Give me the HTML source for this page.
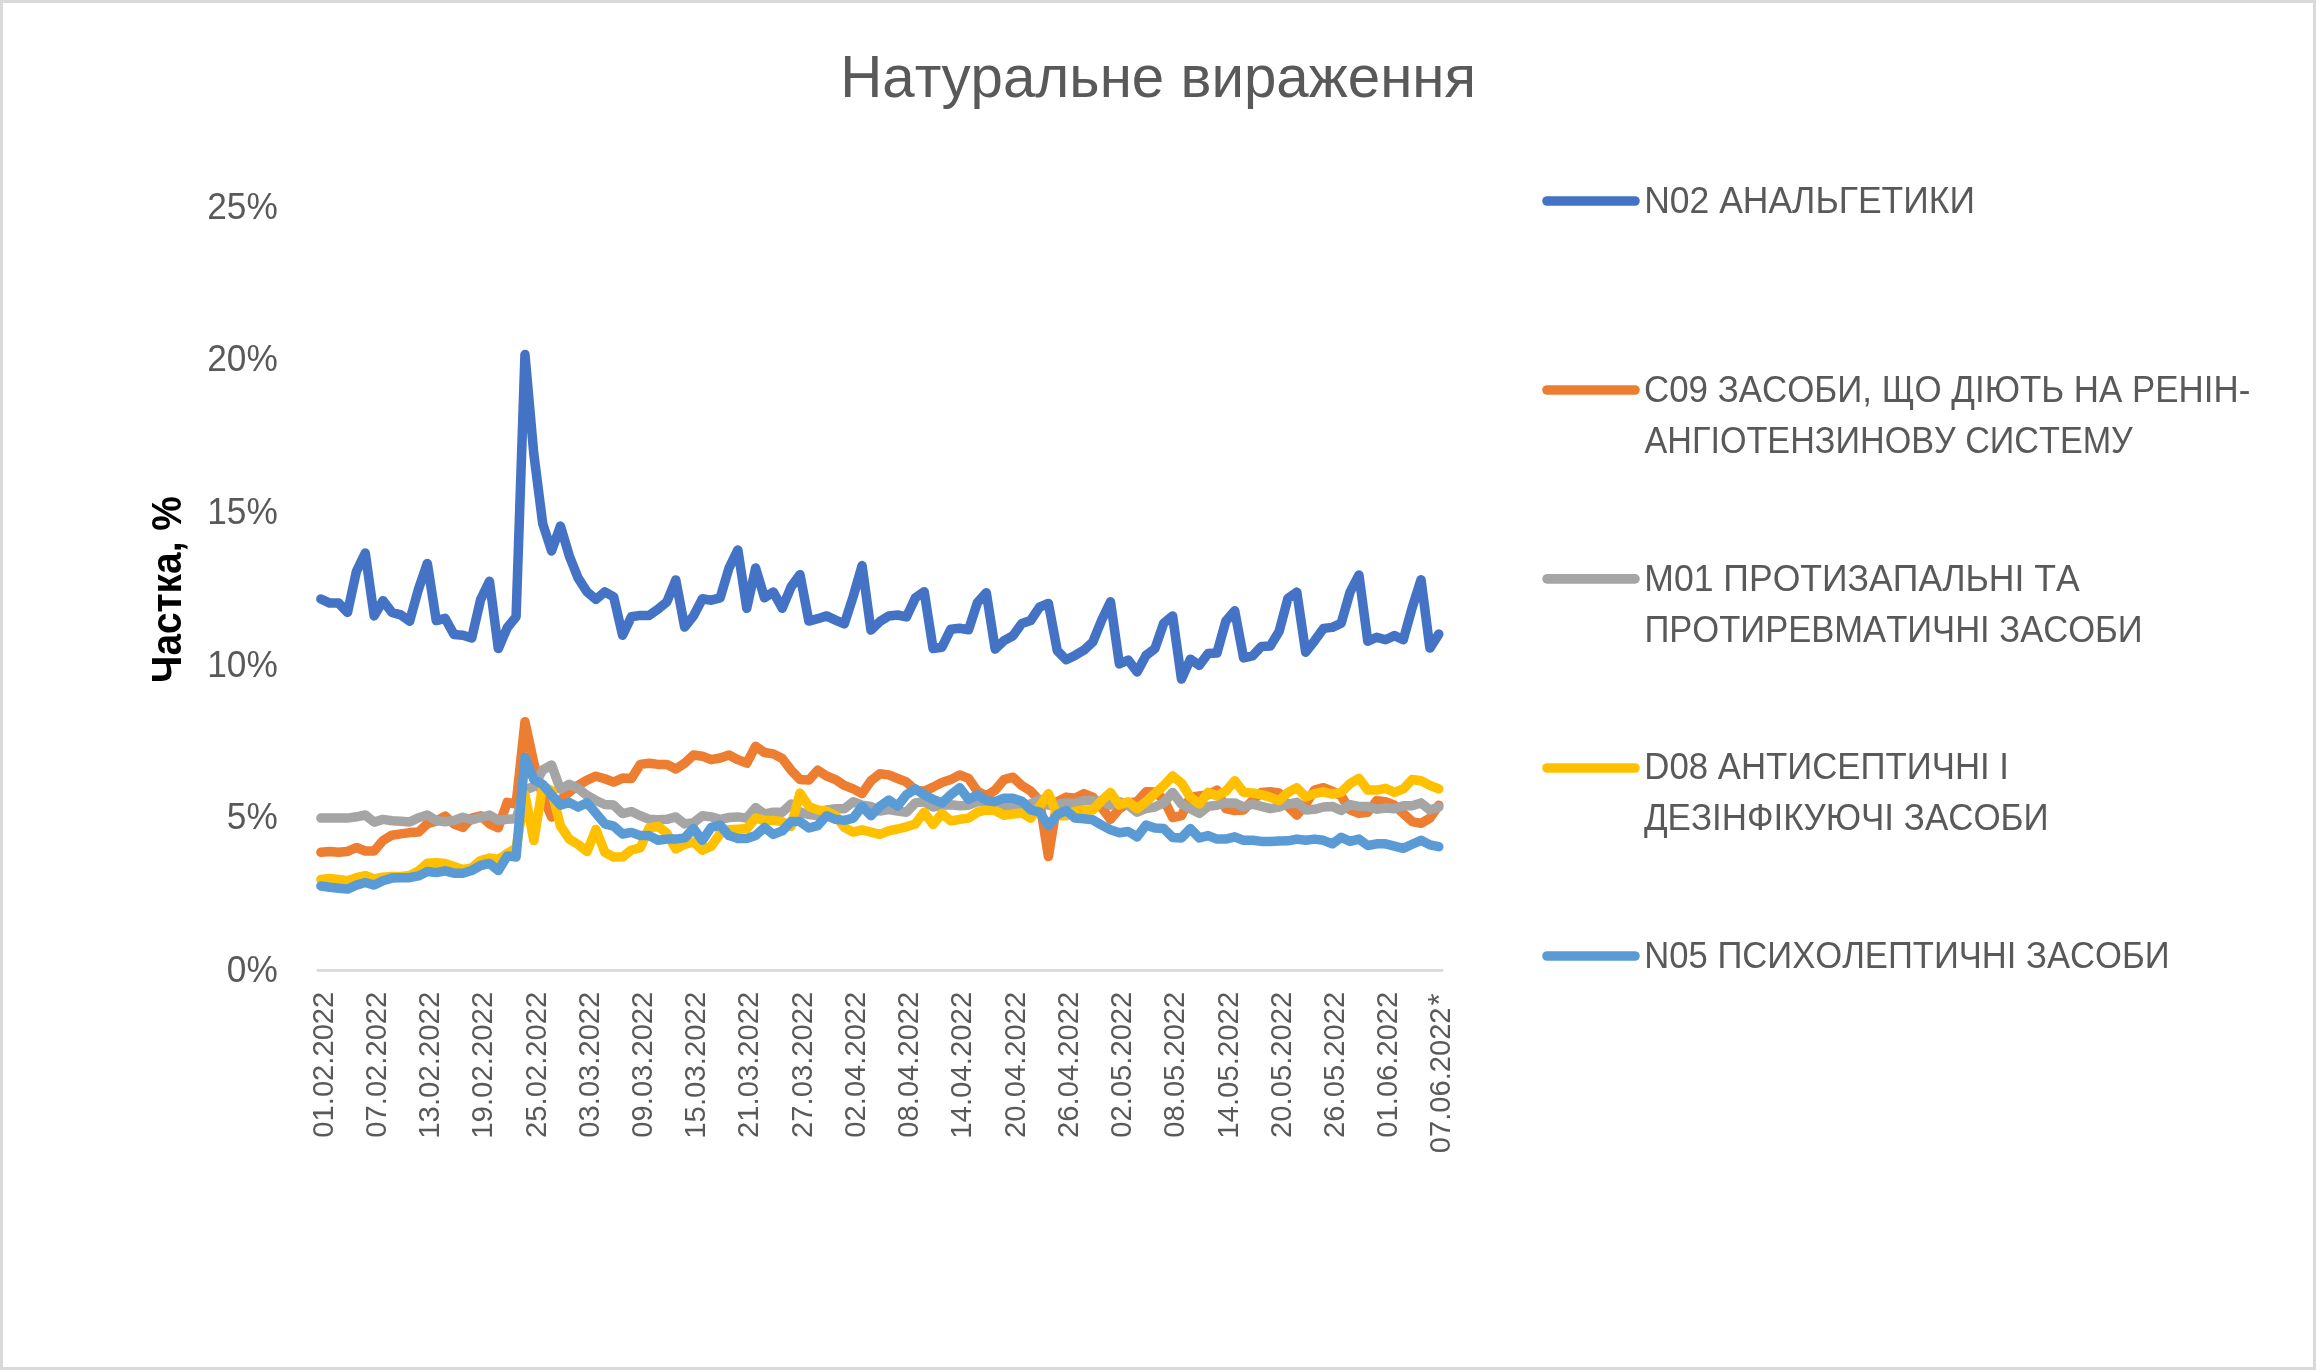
<!DOCTYPE html>
<html><head><meta charset="utf-8"><style>
html,body{margin:0;padding:0;background:#fff;}
body{width:2316px;height:1370px;overflow:hidden;}
svg{display:block;will-change:transform;font-family:"Liberation Sans", sans-serif;font-kerning:none;}
</style></head><body>
<svg width="2316" height="1370" viewBox="0 0 2316 1370">
<rect x="1.5" y="1.5" width="2313" height="1367" fill="#fff" stroke="#d9d9d9" stroke-width="3"/>
<text x="840.22" y="96.90" font-size="59" textLength="635.82" lengthAdjust="spacingAndGlyphs" fill="#595959">Натуральне вираження</text>
<text x="207.23" y="218.70" font-size="37.8" textLength="70.53" lengthAdjust="spacingAndGlyphs" fill="#595959">25%</text>
<text x="207.23" y="371.30" font-size="37.8" textLength="70.53" lengthAdjust="spacingAndGlyphs" fill="#595959">20%</text>
<text x="207.23" y="523.90" font-size="37.8" textLength="70.53" lengthAdjust="spacingAndGlyphs" fill="#595959">15%</text>
<text x="207.23" y="676.50" font-size="37.8" textLength="70.53" lengthAdjust="spacingAndGlyphs" fill="#595959">10%</text>
<text x="226.83" y="829.10" font-size="37.8" textLength="50.93" lengthAdjust="spacingAndGlyphs" fill="#595959">5%</text>
<text x="226.83" y="981.70" font-size="37.8" textLength="50.93" lengthAdjust="spacingAndGlyphs" fill="#595959">0%</text>
<rect x="316.6" y="969.1" width="1126.6" height="2.7" fill="#d9d9d9"/>
<text transform="rotate(-90)" x="-682.89" y="181.00" font-size="43.0" textLength="186.61" lengthAdjust="spacingAndGlyphs" fill="#000" font-weight="bold">Частка, %</text>
<text transform="rotate(-90)" x="-1137.64" y="332.60" font-size="29.8" textLength="145.90" lengthAdjust="spacingAndGlyphs" fill="#595959">01.02.2022</text>
<text transform="rotate(-90)" x="-1137.64" y="385.83" font-size="29.8" textLength="145.90" lengthAdjust="spacingAndGlyphs" fill="#595959">07.02.2022</text>
<text transform="rotate(-90)" x="-1138.74" y="439.06" font-size="29.8" textLength="147.01" lengthAdjust="spacingAndGlyphs" fill="#595959">13.02.2022</text>
<text transform="rotate(-90)" x="-1138.74" y="492.30" font-size="29.8" textLength="147.01" lengthAdjust="spacingAndGlyphs" fill="#595959">19.02.2022</text>
<text transform="rotate(-90)" x="-1137.97" y="545.53" font-size="29.8" textLength="146.24" lengthAdjust="spacingAndGlyphs" fill="#595959">25.02.2022</text>
<text transform="rotate(-90)" x="-1137.64" y="598.76" font-size="29.8" textLength="145.90" lengthAdjust="spacingAndGlyphs" fill="#595959">03.03.2022</text>
<text transform="rotate(-90)" x="-1137.64" y="651.99" font-size="29.8" textLength="145.90" lengthAdjust="spacingAndGlyphs" fill="#595959">09.03.2022</text>
<text transform="rotate(-90)" x="-1138.74" y="705.22" font-size="29.8" textLength="147.01" lengthAdjust="spacingAndGlyphs" fill="#595959">15.03.2022</text>
<text transform="rotate(-90)" x="-1137.97" y="758.46" font-size="29.8" textLength="146.24" lengthAdjust="spacingAndGlyphs" fill="#595959">21.03.2022</text>
<text transform="rotate(-90)" x="-1137.97" y="811.69" font-size="29.8" textLength="146.24" lengthAdjust="spacingAndGlyphs" fill="#595959">27.03.2022</text>
<text transform="rotate(-90)" x="-1137.64" y="864.92" font-size="29.8" textLength="145.90" lengthAdjust="spacingAndGlyphs" fill="#595959">02.04.2022</text>
<text transform="rotate(-90)" x="-1137.64" y="918.15" font-size="29.8" textLength="145.90" lengthAdjust="spacingAndGlyphs" fill="#595959">08.04.2022</text>
<text transform="rotate(-90)" x="-1138.74" y="971.38" font-size="29.8" textLength="147.01" lengthAdjust="spacingAndGlyphs" fill="#595959">14.04.2022</text>
<text transform="rotate(-90)" x="-1137.97" y="1024.62" font-size="29.8" textLength="146.24" lengthAdjust="spacingAndGlyphs" fill="#595959">20.04.2022</text>
<text transform="rotate(-90)" x="-1137.97" y="1077.85" font-size="29.8" textLength="146.24" lengthAdjust="spacingAndGlyphs" fill="#595959">26.04.2022</text>
<text transform="rotate(-90)" x="-1137.64" y="1131.08" font-size="29.8" textLength="145.90" lengthAdjust="spacingAndGlyphs" fill="#595959">02.05.2022</text>
<text transform="rotate(-90)" x="-1137.64" y="1184.31" font-size="29.8" textLength="145.90" lengthAdjust="spacingAndGlyphs" fill="#595959">08.05.2022</text>
<text transform="rotate(-90)" x="-1138.74" y="1237.54" font-size="29.8" textLength="147.01" lengthAdjust="spacingAndGlyphs" fill="#595959">14.05.2022</text>
<text transform="rotate(-90)" x="-1137.97" y="1290.78" font-size="29.8" textLength="146.24" lengthAdjust="spacingAndGlyphs" fill="#595959">20.05.2022</text>
<text transform="rotate(-90)" x="-1137.97" y="1344.01" font-size="29.8" textLength="146.24" lengthAdjust="spacingAndGlyphs" fill="#595959">26.05.2022</text>
<text transform="rotate(-90)" x="-1137.64" y="1397.24" font-size="29.8" textLength="145.90" lengthAdjust="spacingAndGlyphs" fill="#595959">01.06.2022</text>
<text transform="rotate(-90)" x="-1153.14" y="1450.47" font-size="29.8" textLength="145.70" lengthAdjust="spacingAndGlyphs" fill="#595959">07.06.2022</text>
<text transform="rotate(-90)" x="-1005.40" y="1450.07" font-size="31.588" textLength="12.09" lengthAdjust="spacingAndGlyphs" fill="#595959">*</text>
<polyline points="320.90,599.0 329.77,603.1 338.64,603.1 347.52,612.4 356.39,571.5 365.26,553.0 374.13,615.9 383.00,600.7 391.88,612.4 400.75,614.8 409.62,621.2 418.49,589.1 427.36,563.4 436.24,620.6 445.11,618.3 453.98,634.6 462.85,635.2 471.72,638.1 480.60,599.6 489.47,581.2 498.34,648.6 507.21,627.8 516.08,616.7 524.96,354.6 533.83,454.1 542.70,523.6 551.57,550.9 560.44,526.1 569.32,555.9 578.19,578.2 587.06,591.9 595.93,599.3 604.80,591.9 613.68,596.8 622.55,635.3 631.42,616.7 640.29,615.4 649.16,615.4 658.04,609.2 666.91,601.8 675.78,580.0 684.65,627.0 693.52,615.9 702.40,598.8 711.27,600.2 720.14,597.8 729.01,568.0 737.88,549.9 746.76,608.3 755.63,568.0 764.50,597.8 773.37,592.1 782.24,608.3 791.12,586.9 799.99,574.6 808.86,621.1 817.73,618.7 826.60,615.9 835.48,620.1 844.35,623.9 853.22,596.4 862.09,565.6 870.96,630.1 879.84,621.6 888.71,615.9 897.58,615.0 906.45,616.9 915.32,597.9 924.20,591.7 933.07,648.6 941.94,647.2 950.81,629.2 959.68,628.2 968.56,629.7 977.43,602.6 986.30,592.7 995.17,649.1 1004.04,640.6 1012.92,635.8 1021.79,623.5 1030.66,620.5 1039.53,607.2 1048.40,603.4 1057.28,650.6 1066.15,659.7 1075.02,655.4 1083.89,650.2 1092.76,642.1 1101.64,620.3 1110.51,601.8 1119.38,663.9 1128.25,660.1 1137.12,672.0 1146.00,655.4 1154.87,648.7 1163.74,623.1 1172.61,616.0 1181.48,679.1 1190.36,659.2 1199.23,665.4 1208.10,653.5 1216.97,652.9 1225.84,621.1 1234.72,610.8 1243.59,657.9 1252.46,655.9 1261.33,646.5 1270.20,646.0 1279.08,631.5 1287.95,598.3 1296.82,592.1 1305.69,652.2 1314.56,640.8 1323.44,628.4 1332.31,627.4 1341.18,623.2 1350.05,592.1 1358.92,575.0 1367.80,641.3 1376.67,637.2 1385.54,639.8 1394.41,635.6 1403.28,639.8 1412.16,607.7 1421.03,579.7 1429.90,648.1 1438.77,634.1" fill="none" stroke="#4472C4" stroke-width="9.5" stroke-linejoin="round" stroke-linecap="round"/>
<polyline points="320.90,852.3 329.77,851.4 338.64,852.3 347.52,851.4 356.39,847.5 365.26,851.0 374.13,851.0 383.00,840.5 391.88,835.2 400.75,833.9 409.62,832.6 418.49,832.1 427.36,823.8 436.24,821.2 445.11,816.0 453.98,824.0 462.85,827.4 471.72,818.0 480.60,815.8 489.47,823.8 498.34,827.8 507.21,802.3 516.08,804.1 524.96,721.7 533.83,763.0 542.70,796.0 551.57,817.0 560.44,800.0 569.32,791.9 578.19,785.4 587.06,780.1 595.93,776.2 604.80,778.8 613.68,782.1 622.55,778.1 631.42,778.5 640.29,764.4 649.16,763.2 658.04,764.4 666.91,764.4 675.78,769.0 684.65,763.2 693.52,755.0 702.40,756.2 711.27,759.7 720.14,758.0 729.01,755.0 737.88,759.7 746.76,763.2 755.63,746.3 764.50,752.5 773.37,753.9 782.24,758.5 791.12,770.2 799.99,779.6 808.86,780.1 817.73,770.2 826.60,776.0 835.48,779.6 844.35,785.4 853.22,788.9 862.09,793.6 870.96,780.7 879.84,773.7 888.71,774.9 897.58,778.5 906.45,781.9 915.32,790.1 924.20,791.2 933.07,787.1 941.94,782.5 950.81,779.6 959.68,774.9 968.56,778.4 977.43,791.2 986.30,795.9 995.17,790.1 1004.04,779.6 1012.92,777.2 1021.79,785.5 1030.66,791.0 1039.53,800.6 1048.40,856.6 1057.28,801.7 1066.15,797.1 1075.02,798.2 1083.89,793.6 1092.76,797.1 1101.64,807.6 1110.51,819.3 1119.38,808.7 1128.25,802.9 1137.12,801.7 1146.00,791.8 1154.87,792.0 1163.74,799.4 1172.61,817.5 1181.48,815.7 1190.36,797.1 1199.23,795.9 1208.10,794.7 1216.97,790.1 1225.84,808.7 1234.72,810.5 1243.59,809.9 1252.46,800.6 1261.33,792.4 1270.20,791.8 1279.08,793.0 1287.95,806.4 1296.82,815.2 1305.69,804.1 1314.56,790.1 1323.44,787.7 1332.31,791.2 1341.18,795.9 1350.05,809.9 1358.92,813.4 1367.80,812.2 1376.67,800.6 1385.54,801.7 1394.41,805.2 1403.28,813.4 1412.16,821.6 1421.03,823.3 1429.90,818.1 1438.77,805.2" fill="none" stroke="#ED7D31" stroke-width="9.5" stroke-linejoin="round" stroke-linecap="round"/>
<polyline points="320.90,818.1 329.77,818.1 338.64,818.1 347.52,818.1 356.39,816.8 365.26,815.0 374.13,822.1 383.00,819.4 391.88,820.7 400.75,821.2 409.62,822.1 418.49,817.7 427.36,815.0 436.24,820.5 445.11,821.8 453.98,820.5 462.85,817.3 471.72,819.8 480.60,817.5 489.47,815.0 498.34,820.2 507.21,819.2 516.08,818.8 524.96,790.0 533.83,786.5 542.70,770.0 551.57,765.0 560.44,789.3 569.32,784.2 578.19,788.5 587.06,795.5 595.93,800.5 604.80,804.5 613.68,805.1 622.55,813.6 631.42,811.5 640.29,815.7 649.16,819.3 658.04,819.8 666.91,819.3 675.78,816.9 684.65,823.9 693.52,822.8 702.40,815.7 711.27,816.9 720.14,819.3 729.01,817.5 737.88,816.9 746.76,818.1 755.63,807.6 764.50,814.0 773.37,812.2 782.24,812.2 791.12,804.1 799.99,812.2 808.86,814.6 817.73,815.7 826.60,809.9 835.48,808.7 844.35,808.7 853.22,801.7 862.09,805.2 870.96,806.4 879.84,811.1 888.71,809.5 897.58,811.1 906.45,812.2 915.32,802.9 924.20,801.7 933.07,807.0 941.94,805.2 950.81,804.7 959.68,805.8 968.56,805.2 977.43,801.7 986.30,801.7 995.17,804.1 1004.04,806.4 1012.92,805.2 1021.79,806.0 1030.66,804.0 1039.53,799.4 1048.40,805.2 1057.28,804.1 1066.15,802.9 1075.02,803.5 1083.89,800.6 1092.76,800.6 1101.64,801.7 1110.51,805.2 1119.38,801.7 1128.25,805.2 1137.12,812.2 1146.00,808.7 1154.87,807.0 1163.74,802.9 1172.61,792.4 1181.48,804.1 1190.36,808.7 1199.23,813.4 1208.10,806.4 1216.97,805.2 1225.84,802.9 1234.72,802.9 1243.59,807.0 1252.46,804.1 1261.33,806.4 1270.20,808.7 1279.08,807.0 1287.95,804.1 1296.82,802.3 1305.69,809.9 1314.56,809.3 1323.44,807.0 1332.31,806.4 1341.18,810.5 1350.05,804.6 1358.92,806.4 1367.80,806.4 1376.67,809.3 1385.54,808.1 1394.41,808.7 1403.28,805.8 1412.16,805.8 1421.03,802.9 1429.90,809.9 1438.77,807.0" fill="none" stroke="#A5A5A5" stroke-width="9.5" stroke-linejoin="round" stroke-linecap="round"/>
<polyline points="320.90,879.4 329.77,878.6 338.64,879.4 347.52,880.8 356.39,877.7 365.26,875.5 374.13,879.0 383.00,877.2 391.88,876.4 400.75,876.4 409.62,875.5 418.49,871.1 427.36,863.2 436.24,862.8 445.11,863.5 453.98,866.5 462.85,869.5 471.72,868.0 480.60,860.5 489.47,858.0 498.34,859.5 507.21,853.5 516.08,848.0 524.96,794.6 533.83,840.5 542.70,786.0 551.57,790.6 560.44,826.0 569.32,839.2 578.19,844.5 587.06,851.5 595.93,829.4 604.80,852.3 613.68,857.0 622.55,857.0 631.42,850.0 640.29,847.9 649.16,828.0 658.04,826.3 666.91,833.3 675.78,849.0 684.65,844.4 693.52,842.0 702.40,850.2 711.27,846.1 720.14,833.8 729.01,829.8 737.88,829.2 746.76,828.6 755.63,818.1 764.50,820.4 773.37,820.4 782.24,821.6 791.12,826.3 799.99,793.0 808.86,806.4 817.73,809.9 826.60,811.1 835.48,815.7 844.35,827.4 853.22,832.1 862.09,829.8 870.96,832.1 879.84,834.4 888.71,830.9 897.58,829.0 906.45,826.8 915.32,823.9 924.20,812.2 933.07,824.5 941.94,813.4 950.81,821.0 959.68,819.3 968.56,818.1 977.43,812.2 986.30,809.9 995.17,810.5 1004.04,815.2 1012.92,814.0 1021.79,813.0 1030.66,818.1 1039.53,806.4 1048.40,793.6 1057.28,815.7 1066.15,815.7 1075.02,811.1 1083.89,809.9 1092.76,809.9 1101.64,800.6 1110.51,792.4 1119.38,805.2 1128.25,801.7 1137.12,808.7 1146.00,801.7 1154.87,793.5 1163.74,785.4 1172.61,776.0 1181.48,783.1 1190.36,797.1 1199.23,804.1 1208.10,792.4 1216.97,795.9 1225.84,791.2 1234.72,780.7 1243.59,792.4 1252.46,793.0 1261.33,794.7 1270.20,797.1 1279.08,800.6 1287.95,792.4 1296.82,787.7 1305.69,797.1 1314.56,793.6 1323.44,791.8 1332.31,794.1 1341.18,792.4 1350.05,783.6 1358.92,778.4 1367.80,790.1 1376.67,790.1 1385.54,788.3 1394.41,792.4 1403.28,788.9 1412.16,779.5 1421.03,780.7 1429.90,785.4 1438.77,788.9" fill="none" stroke="#FFC000" stroke-width="9.5" stroke-linejoin="round" stroke-linecap="round"/>
<polyline points="320.90,886.0 329.77,887.3 338.64,888.2 347.52,889.1 356.39,885.1 365.26,882.5 374.13,885.1 383.00,880.8 391.88,878.1 400.75,877.7 409.62,877.7 418.49,875.9 427.36,871.6 436.24,872.5 445.11,870.8 453.98,873.2 462.85,873.2 471.72,870.5 480.60,865.5 489.47,863.5 498.34,870.5 507.21,856.0 516.08,857.0 524.96,757.5 533.83,779.5 542.70,784.4 551.57,795.0 560.44,805.1 569.32,802.5 578.19,807.1 587.06,802.8 595.93,813.3 604.80,823.8 613.68,826.1 622.55,834.0 631.42,832.4 640.29,835.6 649.16,835.6 658.04,840.3 666.91,839.1 675.78,839.1 684.65,837.9 693.52,828.6 702.40,840.3 711.27,827.4 720.14,825.1 729.01,835.6 737.88,838.5 746.76,838.5 755.63,835.6 764.50,827.4 773.37,834.4 782.24,830.9 791.12,821.6 799.99,821.6 808.86,828.0 817.73,825.7 826.60,815.7 835.48,819.3 844.35,820.4 853.22,818.1 862.09,806.4 870.96,815.7 879.84,806.4 888.71,800.0 897.58,806.1 906.45,794.7 915.32,788.9 924.20,794.7 933.07,799.4 941.94,802.9 950.81,794.7 959.68,787.7 968.56,799.4 977.43,794.7 986.30,800.6 995.17,801.7 1004.04,798.2 1012.92,798.2 1021.79,801.2 1030.66,809.9 1039.53,812.2 1048.40,825.7 1057.28,814.6 1066.15,810.5 1075.02,818.1 1083.89,818.7 1092.76,819.8 1101.64,825.1 1110.51,829.8 1119.38,832.7 1128.25,831.5 1137.12,836.8 1146.00,825.1 1154.87,828.0 1163.74,828.6 1172.61,837.4 1181.48,837.9 1190.36,828.6 1199.23,837.9 1208.10,835.6 1216.97,839.1 1225.84,839.1 1234.72,836.8 1243.59,840.3 1252.46,840.3 1261.33,841.4 1270.20,841.4 1279.08,841.0 1287.95,840.8 1296.82,839.1 1305.69,840.3 1314.56,839.1 1323.44,840.3 1332.31,843.8 1341.18,837.3 1350.05,841.4 1358.92,839.1 1367.80,845.5 1376.67,843.8 1385.54,843.8 1394.41,846.1 1403.28,848.4 1412.16,844.3 1421.03,840.3 1429.90,844.9 1438.77,846.7" fill="none" stroke="#5B9BD5" stroke-width="9.5" stroke-linejoin="round" stroke-linecap="round"/>
<line x1="1547" y1="201.0" x2="1635" y2="201.0" stroke="#4472C4" stroke-width="9.6" stroke-linecap="round"/>
<text x="1644.19" y="212.70" font-size="37.4" textLength="330.72" lengthAdjust="spacingAndGlyphs" fill="#595959">N02 АНАЛЬГЕТИКИ</text>
<line x1="1547" y1="390.0" x2="1635" y2="390.0" stroke="#ED7D31" stroke-width="9.6" stroke-linecap="round"/>
<text x="1643.93" y="401.50" font-size="37.4" textLength="606.42" lengthAdjust="spacingAndGlyphs" fill="#595959">C09 ЗАСОБИ, ЩО ДІЮТЬ НА РЕНІН-</text>
<text x="1644.53" y="452.70" font-size="37.4" textLength="488.30" lengthAdjust="spacingAndGlyphs" fill="#595959">АНГІОТЕНЗИНОВУ СИСТЕМУ</text>
<line x1="1547" y1="578.9" x2="1635" y2="578.9" stroke="#A5A5A5" stroke-width="9.6" stroke-linecap="round"/>
<text x="1644.28" y="590.50" font-size="37.4" textLength="435.49" lengthAdjust="spacingAndGlyphs" fill="#595959">M01 ПРОТИЗАПАЛЬНІ ТА</text>
<text x="1644.40" y="641.60" font-size="37.4" textLength="498.24" lengthAdjust="spacingAndGlyphs" fill="#595959">ПРОТИРЕВМАТИЧНІ ЗАСОБИ</text>
<line x1="1547" y1="768.0" x2="1635" y2="768.0" stroke="#FFC000" stroke-width="9.6" stroke-linecap="round"/>
<text x="1644.35" y="778.70" font-size="37.4" textLength="364.66" lengthAdjust="spacingAndGlyphs" fill="#595959">D08 АНТИСЕПТИЧНІ І</text>
<text x="1643.94" y="829.80" font-size="37.4" textLength="404.72" lengthAdjust="spacingAndGlyphs" fill="#595959">ДЕЗІНФІКУЮЧІ ЗАСОБИ</text>
<line x1="1547" y1="956.0" x2="1635" y2="956.0" stroke="#5B9BD5" stroke-width="9.6" stroke-linecap="round"/>
<text x="1644.36" y="967.80" font-size="37.4" textLength="525.18" lengthAdjust="spacingAndGlyphs" fill="#595959">N05 ПСИХОЛЕПТИЧНІ ЗАСОБИ</text>
</svg>
</body></html>
